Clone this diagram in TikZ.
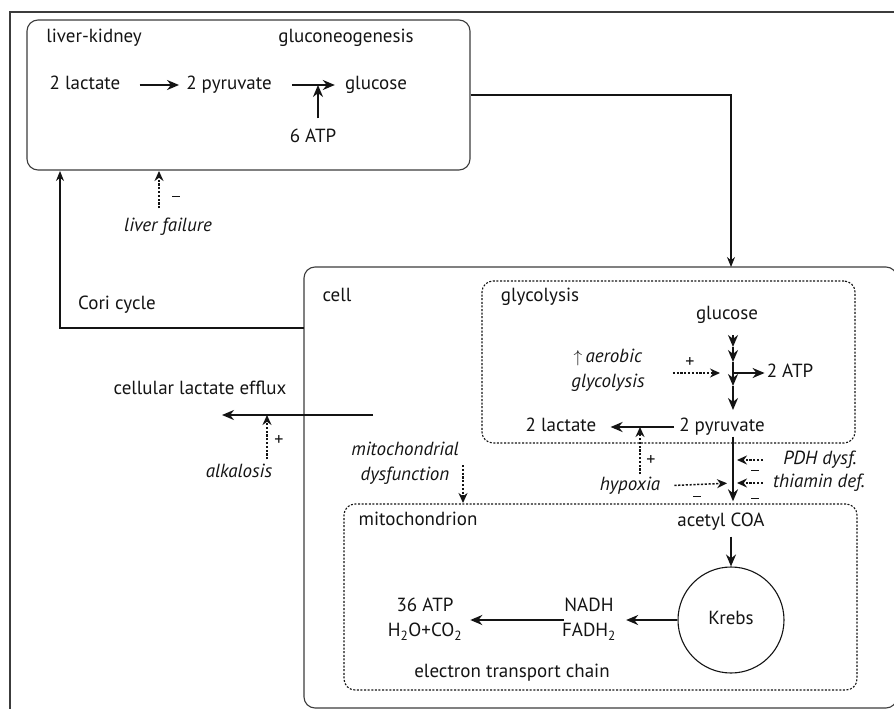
\documentclass[tikz,border=0pt]{standalone}
\usepackage{fontspec}
\setmainfont{PT Sans}
\usetikzlibrary{arrows.meta}

\definecolor{ink}{HTML}{141414}
\definecolor{frame}{HTML}{3C3C3C}

\newcommand{\minus}{\rule[3.5pt]{8pt}{1.2pt}}

\tikzset{
  box/.style={draw=frame, line width=1.1pt, rounded corners=11pt, inner sep=0pt},
  dbox/.style={draw=ink, line width=1.1pt, rounded corners=11pt, inner sep=0pt,
    dash pattern=on 2pt off 1.6pt},
  link/.style={draw=ink, line width=1.1pt, -{Stealth[length=10pt,width=8pt]}},
  flow/.style={draw=ink, line width=2pt, -{Stealth[length=12pt,width=10pt]}},
  cue/.style={draw=ink, line width=1.5pt, dash pattern=on 2.2pt off 1.6pt,
    -{Stealth[length=10pt,width=9pt]}},
  txt/.style={font=\fontsize{19}{25}\selectfont, inner sep=0pt,
    text height=13pt, text depth=4pt, text=ink},
  cause/.style={txt, font=\fontsize{19}{25}\selectfont\itshape},
  lines/.style={font=\fontsize{19}{25}\selectfont, inner sep=0pt, align=center, text=ink},
  sign/.style={font=\fontsize{18}{20}\selectfont, inner sep=0pt, text=ink},
}

\begin{document}
\begin{tikzpicture}[x=1pt,y=-1pt]
\useasboundingbox (0,0) rectangle (894,709);
\clip (0,0) rectangle (894,709);

% outer frame
\draw[frame, line width=1.1pt] (10,720) -- (10,12) -- (905,12);

% liver-kidney
\node[box, minimum width=443pt, minimum height=150pt] (liver) at (248.5,95) {};
\node[txt] (lk) at (94,38) {liver-kidney};
\node[txt] (gng) at (346,38) {gluconeogenesis};
\node[txt] (lac1) at (85,85) {2 lactate};
\node[txt] (pyr1) at (229,85) {2 pyruvate};
\node[txt] (glc1) at (376,85) {glucose};
\node[txt] (atp6) at (313,138) {6 ATP};
\coordinate (j1) at (318,85);
\draw[flow, shorten <=19pt, shorten >=7pt] (lac1) -- (pyr1);
\draw[flow, shorten <=20pt, shorten >=10pt] (pyr1) -- (glc1);
\draw[flow, shorten <=11pt] (atp6.north -| j1) -- (j1);

% liver failure
\node[cause] (lf) at (168,227) {liver failure};
\node[sign] (lfm) at (176,198) {\minus};
\coordinate (lf1) at (159,171);
\draw[cue, shorten <=10pt] (lf.north -| lf1) -- (lf1);

% cell
\node[box, minimum width=593pt, minimum height=441pt] (cellbox) at (600.5,487.5) {};
\node[txt] (cell) at (337,297) {cell};
\coordinate (cin) at (731,267);
\draw[link] (liver.east) -| (cin);

% Cori cycle
\node[txt] (cori) at (117,305) {Cori cycle};
\coordinate (co0) at (304,328);
\coordinate (co1) at (60,171);
\draw[link] (co0) -| (co1);

% lactate efflux
\node[txt] (eff) at (200,390) {cellular lactate efflux};
\coordinate (ef0) at (373,415);
\coordinate (ef1) at (222,415);
\coordinate (e1) at (267,415);
\draw[flow] (ef0) -- (ef1);
\node[cause] (alk) at (239,473) {alkalosis};
\node[sign] (alkp) at (279,441) {+};
\draw[cue, shorten <=5pt] (alk.north -| e1) -- (e1);

% glycolysis
\node[dbox, minimum width=373pt, minimum height=162pt] (glybox) at (668.5,362) {};
\node[txt] (gly) at (540,297) {glycolysis};
\node[txt] (glc2) at (727,315) {glucose};
\node[txt] (atp2) at (790,373) {2 ATP};
\node[txt] (pyr2) at (722,427) {2 pyruvate};
\node[txt] (lac2) at (561,427) {2 lactate};
\node[lines] (aer) at (608,370) {$\uparrow$\,\textit{aerobic}\\\textit{glycolysis}};
\node[sign] (aerp) at (690,363) {+};
\coordinate (s0) at (733,335);
\coordinate (s1) at (733,347);
\coordinate (s2) at (733,362);
\coordinate (s3) at (733,373);
\coordinate (s4) at (733,386);
\coordinate (s5) at (733,410);
\draw[flow] (s0) -- (s1);
\draw[flow] (s1) -- (s2);
\draw[flow] (s2) -- (s4);
\draw[flow] (s4) -- (s5);
\draw[flow, shorten >=2pt] (s3) -- (atp2.west);
\draw[cue, shorten <=28pt, shorten >=13pt] (aer.east |- s3) -- (s3);
\draw[flow, shorten <=5pt, shorten >=14pt] (pyr2.west) -- (lac2.east);

% hypoxia
\node[cause] (hyp) at (630,486) {hypoxia};
\node[sign] (hypp) at (651,460) {+};
\node[sign] (hypm) at (697,498) {\minus};
\coordinate (h1) at (640,427);
\coordinate (p1) at (733,483);
\draw[cue, shorten <=3pt] (hyp.north -| h1) -- (h1);
\draw[cue, shorten <=14pt, shorten >=6pt] (hyp.east) -- (p1);

% pyruvate to acetyl COA
\node[txt] (acoa) at (721,522) {acetyl COA};
\draw[flow, shorten <=1pt, shorten >=12pt] (pyr2.south -| s1) -- (acoa.north -| s1);

% PDH and thiamin
\node[cause] (pdh) at (820,460) {PDH dysf.};
\node[cause] (thi) at (819,483) {thiamin def.};
\node[sign] (pdhm) at (755,472) {\minus};
\node[sign] (thim) at (755,500) {\minus};
\draw[cue, shorten <=20pt, shorten >=4pt] (pdh.west) -- (pdh.west -| p1);
\draw[cue, shorten <=10pt, shorten >=4pt] (thi.west) -- (p1);

% mitochondrion
\node[dbox, minimum width=513pt, minimum height=186pt] (mitobox) at (600.5,597) {};
\node[txt] (mito) at (418,521) {mitochondrion};
\node[lines] (mdys) at (405,463) {\textit{mitochondrial}\\\textit{dysfunction}};
\coordinate (md) at (463,503);
\draw[cue, shorten <=2pt] (md |- mdys.center) -- (md);

\node[draw=ink, line width=1.1pt, circle, minimum size=106pt, txt] (krebs) at (731,620) {Krebs};
\draw[flow, shorten <=6pt] (acoa.south -| krebs) -- (krebs.north);
\node[lines] (nadh) at (589,619) {NADH\\FADH\textsubscript{2}};
\node[lines] (atp36) at (425,619) {36 ATP\\H\textsubscript{2}O+CO\textsubscript{2}};
\draw[flow, shorten >=10pt] (krebs.west) -- (krebs.west -| nadh.east);
\draw[flow, shorten <=-2pt, shorten >=8pt] (nadh.west |- krebs.west) -- (atp36.east |- krebs.west);
\node[txt] (etc) at (512,673) {electron transport chain};
\end{tikzpicture}
\end{document}
